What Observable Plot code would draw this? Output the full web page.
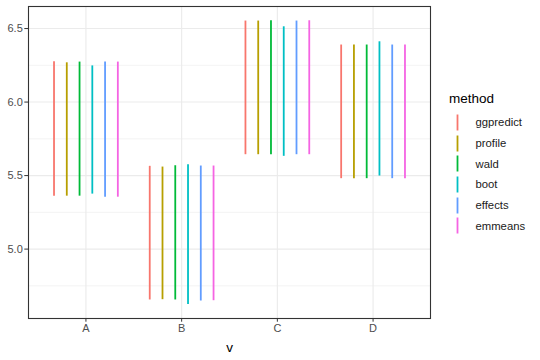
<!DOCTYPE html>
<html><head><meta charset="utf-8">
<script src="https://cdn.jsdelivr.net/npm/d3@7"></script>
<script src="https://cdn.jsdelivr.net/npm/@observablehq/plot@0.6"></script>
<style>
body{margin:0;background:#fff;font-family:"Liberation Sans",Arial,sans-serif;}
#wrap{position:relative;width:540px;height:360px;}
#legend{position:absolute;left:449px;top:89px;color:#1a1a1a;}
#legend .title{font-size:13.5px;height:20px;line-height:20px;color:#000;}
#legend .items{margin-top:3px;}
#legend .row{display:flex;align-items:center;height:20.7px;}
#legend .key{width:17px;height:17px;display:block;}
#legend .lab{margin-left:9.5px;font-size:11.3px;}
</style></head><body><div id="wrap"></div>
<script>
const categories = ["A", "B", "C", "D"];
const methods = ["ggpredict", "profile", "wald", "boot", "effects", "emmeans"];
const colors = ["#F8766D", "#B79F00", "#00BA38", "#00BFC4", "#619CFF", "#F564E3"];
const lowerA = [5.360, 5.360, 5.360, 5.374, 5.353, 5.353];
const upperA = [6.274, 6.267, 6.272, 6.246, 6.272, 6.272];
const lowerB = [4.654, 4.656, 4.654, 4.624, 4.647, 4.649];
const upperB = [5.563, 5.558, 5.567, 5.574, 5.565, 5.565];
const lowerC = [5.642, 5.642, 5.642, 5.631, 5.642, 5.642];
const upperC = [6.551, 6.551, 6.553, 6.512, 6.551, 6.553];
const lowerD = [5.479, 5.479, 5.479, 5.497, 5.479, 5.479];
const upperD = [6.388, 6.388, 6.388, 6.410, 6.388, 6.388];
const yTicks = [5.0, 5.5, 6.0, 6.5];
const yMinor = [4.75, 5.25, 5.75, 6.25];

// ggplot-style discrete axis: categories at 1..n, dodge width 0.8
const dodgeWidth = 0.8;
const lowers = {A: lowerA, B: lowerB, C: lowerC, D: lowerD};
const uppers = {A: upperA, B: upperB, C: upperC, D: upperD};
const catPos = categories.map((c, i) => i + 1);
const rows = [];
categories.forEach((v, ci) => methods.forEach((m, i) => rows.push({
  v, method: m,
  pos: catPos[ci] + (i - (methods.length - 1) / 2) * dodgeWidth / methods.length,
  lower: lowers[v][i], upper: uppers[v][i]
})));

const plot = Plot.plot({
  width: 540, height: 360,
  marginLeft: 28, marginRight: 110, marginTop: 6, marginBottom: 42,
  style: {fontFamily: '"Liberation Sans", Arial, sans-serif', fontSize: "11px", color: "#4D4D4D", background: "white"},
  x: {domain: [0.4, categories.length + 0.6], axis: null},
  y: {domain: [4.528, 6.650], axis: null},
  color: {domain: methods, range: colors},
  marks: [
    Plot.ruleY(yMinor, {stroke: "#EBEBEB", strokeWidth: 0.6}),
    Plot.ruleY(yTicks, {stroke: "#EBEBEB", strokeWidth: 1.1}),
    Plot.ruleX(catPos, {stroke: "#EBEBEB", strokeWidth: 1.1}),
    Plot.ruleX(rows, {x: "pos", y1: "lower", y2: "upper", stroke: "method", strokeWidth: 1.8}),
    Plot.axisY(yTicks, {tickFormat: d3.format(".1f"), tickSize: 3.7, tickPadding: 2, label: null, stroke: "#333333", fill: "#4D4D4D", fontSize: 11}),
    Plot.axisX(catPos, {tickFormat: i => categories[i - 1], tickSize: 3.7, tickPadding: 2, label: null, stroke: "#333333", fill: "#4D4D4D", fontSize: 11}),
    Plot.text(["v"], {frameAnchor: "bottom", lineAnchor: "bottom", dy: 33, fontSize: 13.5, fill: "#000"}),
    Plot.frame({stroke: "#333333", strokeWidth: 1.1})
  ]
});
const wrap = document.getElementById("wrap");
wrap.appendChild(plot);

const legend = document.createElement("div");
legend.id = "legend";
legend.innerHTML = '<div class="title">method</div><div class="items">' +
  methods.map((m, i) => `<div class="row"><svg class="key" width="17" height="17"><line x1="8.5" x2="8.5" y1="0.5" y2="16.5" stroke="${colors[i]}" stroke-width="1.8"></line></svg><div class="lab">${m}</div></div>`).join("") +
  '</div>';
wrap.appendChild(legend);
</script>
</body></html>
